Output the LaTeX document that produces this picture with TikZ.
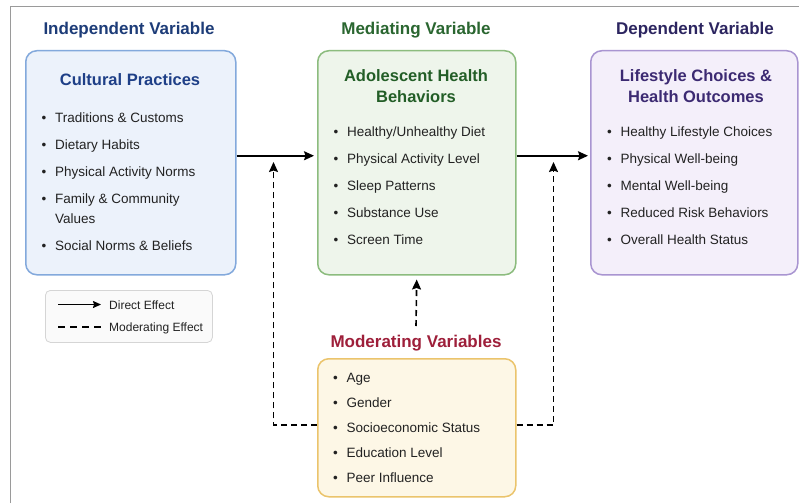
\documentclass[tikz,border=0pt]{standalone}
\usepackage{fontspec}
\setmainfont{Liberation Sans}
\usetikzlibrary{arrows.meta}
\definecolor{framec}{HTML}{9A9A9A}
\definecolor{txt}{HTML}{222222}
\definecolor{bluet}{HTML}{1D3C78}
\definecolor{blueh}{HTML}{1E3F87}
\definecolor{bluef}{HTML}{ECF2FB}
\definecolor{blued}{HTML}{83A9DC}
\definecolor{greent}{HTML}{2A6630}
\definecolor{greenh}{HTML}{235E27}
\definecolor{greenf}{HTML}{EEF5EB}
\definecolor{greend}{HTML}{8CBC7E}
\definecolor{purpt}{HTML}{2C2560}
\definecolor{purph}{HTML}{3C2A72}
\definecolor{purpf}{HTML}{F4EFFA}
\definecolor{purpd}{HTML}{A995D1}
\definecolor{redt}{HTML}{9E1F3A}
\definecolor{yelf}{HTML}{FDF7E6}
\definecolor{yeld}{HTML}{EBC46C}
\definecolor{legf}{HTML}{FAFAFA}
\definecolor{legd}{HTML}{D5D5D5}
\newcommand\bul{\makebox[13.5pt][l]{•}}
\begin{document}
\begin{tikzpicture}[x=1pt,y=-1pt,
  panel/.style={draw, line width=1.5pt, rounded corners=11pt, anchor=north west, inner sep=0pt},
  vartitle/.style={font=\fontsize{17}{20}\selectfont\bfseries, anchor=base, inner sep=0pt},
  boxhead/.style={font=\fontsize{16.5}{20}\selectfont\bfseries, anchor=base, inner sep=0pt},
  item/.style={font=\fontsize{13.5}{16}\selectfont, text=txt, anchor=base west, inner sep=0pt},
  legtext/.style={font=\fontsize{12}{14}\selectfont, text=txt, anchor=base west, inner sep=0pt},
  direct/.style={line width=1.6pt, -{Stealth[length=10pt,width=9pt,inset=1.5pt]}},
  moder/.style={line width=1.6pt, dash pattern=on 6pt off 4pt, -{Stealth[length=10pt,width=9pt,inset=1.5pt]}},
]
\useasboundingbox (0,0) rectangle (799,503);
\fill[white] (0,0) rectangle (799,503);
\draw[framec, line width=1pt] (10,503) -- (10,7) -- (799,7);

% ---------- titles ----------
\node[vartitle, text=bluet] (ivt) at (129,35) {Independent Variable};
\node[vartitle, text=greent] (mvt) at (416,34.5) {Mediating Variable};
\node[vartitle, text=purpt] (dvt) at (695,35) {Dependent Variable};
\node[vartitle, text=redt] (modt) at (416,347.5) {Moderating Variables};

% ---------- panels ----------
\node[panel, fill=bluef, draw=blued, minimum width=210pt, minimum height=224pt] (iv) at (25,50) {};
\node[panel, fill=greenf, draw=greend, minimum width=198pt, minimum height=224pt] (mv) at (317,50) {};
\node[panel, fill=purpf, draw=purpd, minimum width=207pt, minimum height=224pt] (dv) at (590,50) {};
\node[panel, fill=yelf, draw=yeld, minimum width=198pt, minimum height=138pt] (modv) at (317,358) {};

% ---------- independent ----------
\node[boxhead, text=blueh] (ivh) at (130,85) {Cultural Practices};
\node[item] (iv1) at (41.5,122) {\bul Traditions \& Customs};
\node[item] (iv2) at (41.5,149) {\bul Dietary Habits};
\node[item] (iv3) at (41.5,176) {\bul Physical Activity Norms};
\node[item] (iv4) at (41.5,203) {\bul Family \& Community};
\node[item] (iv4b) at (55,223) {Values};
\node[item] (iv5) at (41.5,250) {\bul Social Norms \& Beliefs};

% ---------- mediating ----------
\node[boxhead, text=greenh] (mvh1) at (416,81) {Adolescent Health};
\node[boxhead, text=greenh] (mvh2) at (416,102) {Behaviors};
\node[item] (mv1) at (333.5,136.5) {\bul Healthy/Unhealthy Diet};
\node[item] (mv2) at (333.5,163.5) {\bul Physical Activity Level};
\node[item] (mv3) at (333.5,190.5) {\bul Sleep Patterns};
\node[item] (mv4) at (333.5,217.5) {\bul Substance Use};
\node[item] (mv5) at (333.5,244.5) {\bul Screen Time};

% ---------- dependent ----------
\node[boxhead, text=purph] (dvh1) at (696,81) {Lifestyle Choices \&};
\node[boxhead, text=purph] (dvh2) at (696,102) {Health Outcomes};
\node[item] (dv1) at (607,136) {\bul Healthy Lifestyle Choices};
\node[item] (dv2) at (607,163) {\bul Physical Well-being};
\node[item] (dv3) at (607,190) {\bul Mental Well-being};
\node[item] (dv4) at (607,217) {\bul Reduced Risk Behaviors};
\node[item] (dv5) at (607,244) {\bul Overall Health Status};

% ---------- moderating ----------
\node[item] (md1) at (333,382.5) {\bul Age};
\node[item] (md2) at (333,407.5) {\bul Gender};
\node[item] (md3) at (333,432.5) {\bul Socioeconomic Status};
\node[item] (md4) at (333,457.5) {\bul Education Level};
\node[item] (md5) at (333,482.5) {\bul Peer Influence};

% ---------- connectors ----------
\draw[direct, shorten >=3pt] ([yshift=7pt]iv.east) -- ([yshift=7pt]mv.west);
\draw[direct, shorten >=2pt] ([yshift=7pt]mv.east) -- ([yshift=7pt]dv.west);

\coordinate (lt) at (273.5,162);
\coordinate (rt) at (553.5,162);
\coordinate (mc) at (416,326);
\draw[moder] ([yshift=3pt]modv.west) -| (lt);
\draw[moder] ([yshift=3pt]modv.east) -| (rt);
\draw[moder, shorten >=4pt] (mc) -- (mv.south);

% ---------- legend ----------
\node[draw=legd, fill=legf, line width=0.8pt, rounded corners=5pt, anchor=north west,
      minimum width=167pt, minimum height=52pt, inner sep=0pt] (leg) at (45,290) {};
\coordinate (la1) at (58,304.5);
\coordinate (lb1) at (101,304.5);
\coordinate (la2) at (58,327);
\coordinate (lb2) at (101,327);
\draw[line width=1.3pt, -{Stealth[length=8pt,width=7pt,inset=1pt]}] (la1) -- (lb1);
\draw[line width=1.3pt, dash pattern=on 7pt off 5pt] (la2) -- (lb2);
\node[legtext] (lt1) at (109,309) {Direct Effect};
\node[legtext] (lt2) at (109,331.5) {Moderating Effect};
\end{tikzpicture}
\end{document}
